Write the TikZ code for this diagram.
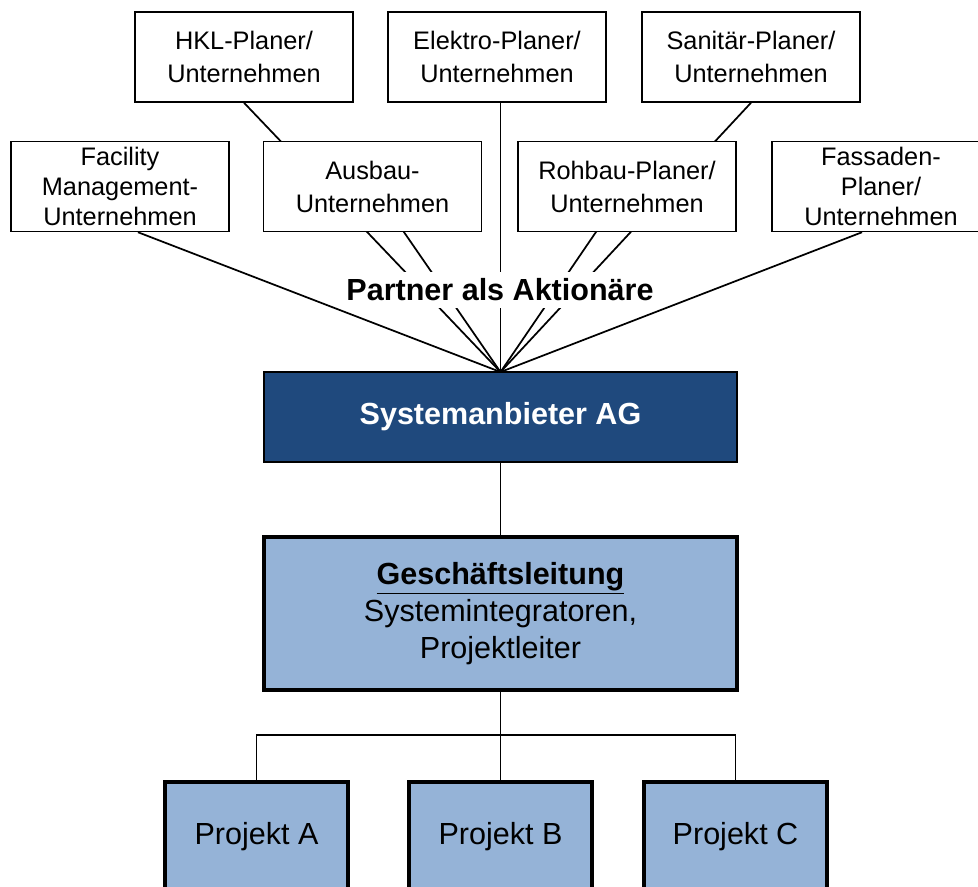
\documentclass[tikz,border=0pt]{standalone}
\usepackage{fontspec}
\setmainfont{Liberation Sans}
\usetikzlibrary{backgrounds}

\definecolor{agblue}{RGB}{31,73,125}
\definecolor{lightblue}{RGB}{149,179,215}

\tikzset{
  partner/.style={draw=black, fill=white, line width=1.1pt, rectangle,
    minimum width=163.5pt, minimum height=67.5pt, inner sep=0pt,
    align=center, font=\fontsize{19pt}{24.75pt}\selectfont},
  partnerthree/.style={partner, font=\fontsize{19pt}{22.5pt}\selectfont},
  link/.style={draw=black, line width=1.3pt},
  agbox/.style={draw=black, fill=agblue, line width=1.1pt, rectangle,
    minimum width=354.75pt, minimum height=67.5pt, inner sep=0pt,
    text=white, font=\fontsize{22.9pt}{27pt}\selectfont\bfseries},
  leitbox/.style={draw=black, fill=lightblue, line width=3pt, rectangle,
    minimum width=354.75pt, minimum height=114.75pt, inner sep=0pt,
    align=center, font=\fontsize{22.9pt}{27.6pt}\selectfont},
  projbox/.style={draw=black, fill=lightblue, line width=2.6pt, rectangle,
    minimum width=137.25pt, minimum height=81.75pt, inner sep=0pt,
    font=\fontsize{22.9pt}{27pt}\selectfont},
  caption/.style={fill=white, inner xsep=1pt, inner ysep=0pt,
    text height=21pt, text depth=6pt,
    font=\fontsize{22.9pt}{27pt}\selectfont\bfseries}
}

\begin{document}
\begin{tikzpicture}[x=0.75pt,y=-0.75pt]
  \useasboundingbox (0,0) rectangle (978,886);
  \clip (0,0) rectangle (978,886);

  % partner companies, upper row
  \node[partner] (hkl) at (244,57) {HKL-Planer/\\Unternehmen};
  \node[partner] (elektro) at (497,57) {Elektro-Planer/\\Unternehmen};
  \node[partner] (sanitaer) at (751,57) {Sanitär-Planer/\\Unternehmen};

  % partner companies, lower row
  \node[partnerthree] (fm) at (120,186.5) {Facility\\Management-\\Unternehmen};
  \node[partner] (ausbau) at (372.5,186.5) {Ausbau-\\Unternehmen};
  \node[partner] (rohbau) at (627,186.5) {Rohbau-Planer/\\Unternehmen};
  \node[partnerthree] (fassade) at (881,186.5) {Fassaden-\\Planer/\\Unternehmen};

  % the system provider
  \node[agbox] (ag) at (500.5,417) {Systemanbieter AG};
  \coordinate (hub) at (500.5,372);

  % management
  \node[leitbox] (gl) at (500.5,613.5)
    {\textbf{\underline{Geschäftsleitung}}\\Systemintegratoren,\\Projektleiter};

  % projects
  \node[projbox] (pa) at (256.5,836.5) {Projekt A};
  \node[projbox] (pb) at (500.5,836.5) {Projekt B};
  \node[projbox] (pc) at (735.5,836.5) {Projekt C};

  % shareholder links, running behind the partner boxes
  \begin{pgfonlayer}{background}
    \draw[link] ([xshift=13.5pt]fm.south) -- (hub);
    \draw[link] (hkl.south) -- (hub);
    \draw[link] (ausbau.center) -- (hub);
    \draw[link] (elektro.south -| hub) -- (hub);
    \draw[link] (rohbau.center) -- (hub);
    \draw[link] (sanitaer.south) -- (hub);
    \draw[link] ([xshift=-14.25pt]fassade.south) -- (hub);
  \end{pgfonlayer}

  \node[caption, anchor=base] (partnercap) at (500,300) {Partner als Aktionäre};

  % hierarchy below the provider
  \coordinate (bus) at (500.5,735);
  \draw[link] (ag.south) -- (gl.north);
  \draw[link] (gl.south) -- (pb.north);
  \draw[link] (pa.north) -- (pa.north |- bus) -- (pc.north |- bus) -- (pc.north);
\end{tikzpicture}
\end{document}
